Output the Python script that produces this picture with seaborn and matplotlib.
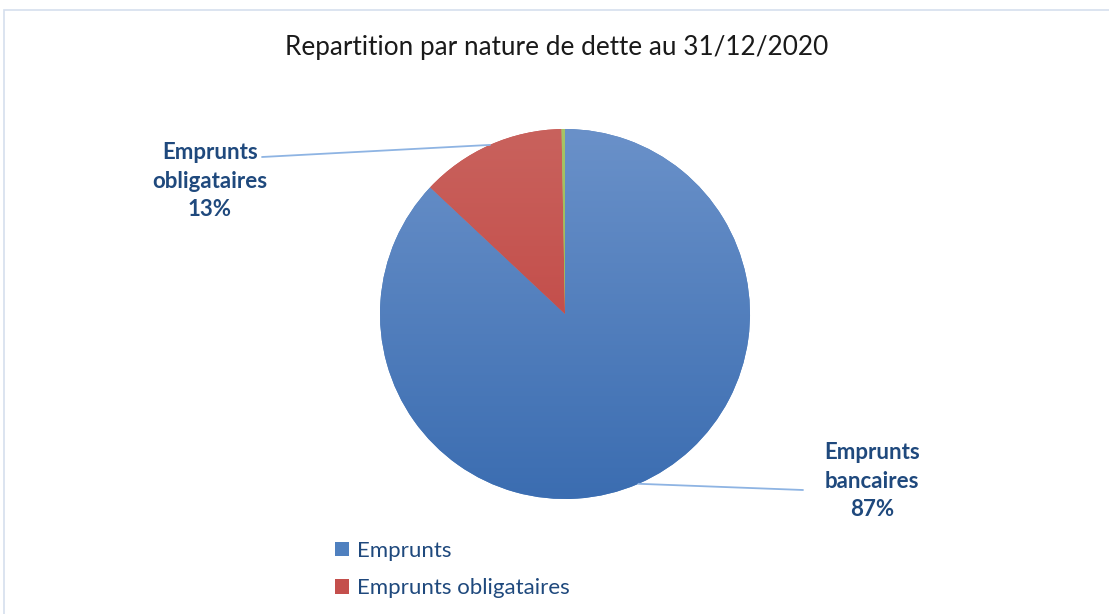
import numpy as np
import matplotlib
matplotlib.use("Agg")
import matplotlib.pyplot as plt
import seaborn as sns
from matplotlib.patches import Rectangle
from matplotlib.colors import to_rgb

# données
categories = ["Emprunts bancaires", "Emprunts obligataires", "Autres"]
legend_labels = ["Emprunts", "Emprunts obligataires"]
values = [87.0, 12.7, 0.3]
pct_labels = ["87%", "13%", None]
colors = ["#4f80bf", "#c44f4c", "#9bbb59"]
# dégradé haut -> bas de chaque part
grad_top = ["#6a91c9", "#c9625d", "#a6c466"]
grad_bottom = ["#3b6db1", "#bf3c3a", "#8fb04c"]

sns.set_theme(style="white")
plt.rcParams["font.family"] = ["Lato", "DejaVu Sans"]

W, H = 1109, 614
fig = plt.figure(figsize=(W / 100, H / 100), dpi=100)

# cadre du graphique
fig.patches.append(Rectangle((4 / W, -0.1), 1.2, (H - 10) / H + 0.1, transform=fig.transFigure,
                             fill=False, edgecolor="#d5dfee", linewidth=1.2))

cx, cy, r = 565, 314, 185
ax = fig.add_axes([(cx - r) / W, (H - cy - r) / H, 2 * r / W, 2 * r / H])
wedges, _ = ax.pie(values, colors=colors, startangle=90, counterclock=False, radius=1,
                   wedgeprops=dict(linewidth=0))
for w, c0, c1 in zip(wedges, grad_top, grad_bottom):
    t = np.linspace(0, 1, 256)[:, None, None]
    img = (1 - t) * np.array(to_rgb(c0)) + t * np.array(to_rgb(c1))
    im = ax.imshow(img, extent=(-1, 1, -1, 1), origin="upper", aspect="auto",
                   interpolation="bilinear", zorder=w.get_zorder() + 0.1)
    im.set_clip_path(w)
ax.set_xlim(-1, 1)
ax.set_ylim(-1, 1)
ax.set_aspect("equal")
ax.axis("off")

fig.text(0.5 + 2 / W, 1 - 47 / H, "Repartition par nature de dette au 31/12/2020",
         ha="center", va="center", fontsize=18.8, color="#1a1a1a")

navy = "#1f497d"
# étiquettes avec lignes de rappel
label_pos = {0: (872, 481, 803, 490), 1: (210, 181, 262, 157)}
for i, (tx, ty, lx, ly) in label_pos.items():
    w = wedges[i]
    ang = np.deg2rad((w.theta1 + w.theta2) / 2)
    name = categories[i].split(" ")
    fig.text(tx / W, 1 - ty / H, f"{name[0]}\n{name[1]}\n{pct_labels[i]}", ha="center",
             va="center", fontsize=16, fontweight="bold", color=navy, linespacing=1.45)
    ax.annotate("", xy=(np.cos(ang), np.sin(ang)), xycoords="data",
                xytext=(lx / W, 1 - ly / H), textcoords="figure fraction",
                arrowprops=dict(arrowstyle="-", color="#8eb4e3", lw=1.3,
                                shrinkA=0, shrinkB=0), annotation_clip=False)

leg = fig.legend(wedges[:2], legend_labels, loc="upper left",
                 bbox_to_anchor=(324 / W, 1 - 530 / H), frameon=False,
                 fontsize=16, handlelength=0.62, handleheight=0.62, handletextpad=0.35,
                 labelspacing=0.78, borderpad=0)
for t in leg.get_texts():
    t.set_color(navy)

fig.savefig("out.png", dpi=100)
